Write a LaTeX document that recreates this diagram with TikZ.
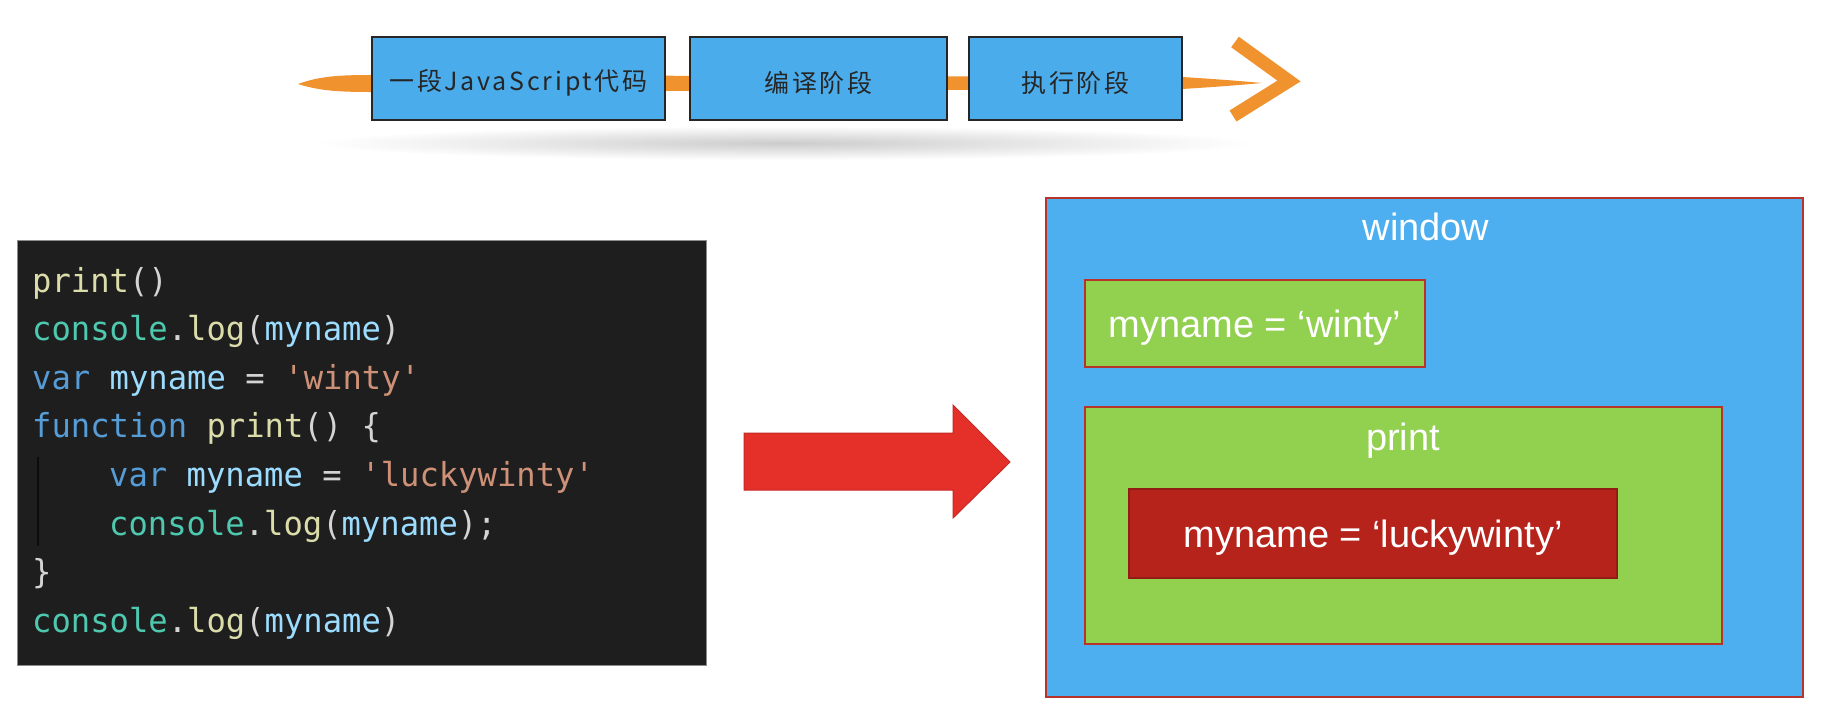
\documentclass[tikz,border=0pt]{standalone}
\usepackage{fontspec}
\setmainfont{Liberation Sans}
\newfontfamily\cjkfont[LetterSpace=11]{Noto Sans CJK SC}
\newfontfamily\codefont[FakeStretch=0.975]{DejaVu Sans Mono}
\definecolor{brush}{HTML}{F0932E}
\definecolor{stageblue}{HTML}{4BACEB}
\definecolor{winblue}{HTML}{4DAFF0}
\definecolor{scopegreen}{HTML}{92D050}
\definecolor{scopered}{HTML}{B5231B}
\definecolor{arrowred}{HTML}{E5302A}
\definecolor{edgered}{HTML}{B8342A}
\definecolor{codebg}{HTML}{1E1E1E}
\definecolor{cfun}{HTML}{DCDCAA}
\definecolor{cobj}{HTML}{4EC9B0}
\definecolor{cvar}{HTML}{9CDCFE}
\definecolor{ckey}{HTML}{569CD6}
\definecolor{cstr}{HTML}{CE9178}
\definecolor{cpun}{HTML}{D4D4D4}
\newcommand{\cf}[1]{\textcolor{cfun}{#1}}
\newcommand{\co}[1]{\textcolor{cobj}{#1}}
\newcommand{\cv}[1]{\textcolor{cvar}{#1}}
\newcommand{\ck}[1]{\textcolor{ckey}{#1}}
\newcommand{\cs}[1]{\textcolor{cstr}{#1}}
\newcommand{\cp}[1]{\textcolor{cpun}{#1}}
\newcommand{\q}{\textquotesingle}
\begin{document}
\begin{tikzpicture}[x=1pt,y=-1pt,
  stagebox/.style={draw=black!85,line width=1.3pt,fill=stageblue,minimum height=83pt,inner sep=0pt},
  stagetext/.style={font=\cjkfont\fontsize{25}{29}\selectfont,text=black!85},
  codeline/.style={anchor=base west,inner sep=0pt,font=\codefont\fontsize{33}{38}\selectfont},
  scopebox/.style={draw=edgered,line width=1.6pt,inner sep=0pt},
  scopetext/.style={anchor=base,text=white,font=\fontsize{38}{44}\selectfont,inner sep=0pt}]
\useasboundingbox (0,0) rectangle (1822,716);
\fill[white] (0,0) rectangle (1822,716);

% soft shadow under the pipeline
\shade[inner color=black!20,outer color=white] (785,143) ellipse [x radius=470,y radius=17];

% orange brush stroke
\fill[brush] (298,84) .. controls (320,76) and (340,75) .. (372,75) -- (1182,77)
  .. controls (1215,79) and (1240,81) .. (1262,83)
  .. controls (1240,85) and (1215,87) .. (1182,89) -- (372,92)
  .. controls (340,92) and (320,91) .. (298,84) -- cycle;
\coordinate (chevtop) at (1235,42);
\coordinate (chevtip) at (1289,81);
\coordinate (chevbot) at (1233,116);
\draw[brush,line width=13pt,line join=miter] (chevtop) -- (chevtip) -- (chevbot);

% stages
\node[stagebox,minimum width=293pt] (s1) at (518.5,78.5) {};
\node[stagebox,minimum width=257pt] (s2) at (818.5,78.5) {};
\node[stagebox,minimum width=213pt] (s3) at (1075.5,78.5) {};
\node[stagetext] (t1) at (518.5,83) {一段JavaScript代码};
\node[stagetext] (t2) at (818.5,83) {编译阶段};
\node[stagetext] (t3) at (1075.5,83) {执行阶段};

% code panel
\node[draw=black!45,line width=1pt,fill=codebg,minimum width=689pt,minimum height=425pt,inner sep=0pt] (code) at (361.5,452.5) {};
\draw[black!60!codebg,line width=1.5pt] (38,457) -- (38,546);
\node[codeline] (l1) at (32,292) {\cf{print}\cp{()}};
\node[codeline] (l2) at (32,340.6) {\co{console}\cp{.}\cf{log}\cp{(}\cv{myname}\cp{)}};
\node[codeline] (l3) at (32,389.2) {\ck{var} \cv{myname} \cp{=} \cs{\q winty\q}};
\node[codeline] (l4) at (32,437.8) {\ck{function} \cf{print}\cp{() \{}};
\node[codeline] (l5) at (109,486.4) {\ck{var} \cv{myname} \cp{=} \cs{\q luckywinty\q}};
\node[codeline] (l6) at (109,535) {\co{console}\cp{.}\cf{log}\cp{(}\cv{myname}\cp{);}};
\node[codeline] (l7) at (32,583.6) {\cp{\}}};
\node[codeline] (l8) at (32,632.2) {\co{console}\cp{.}\cf{log}\cp{(}\cv{myname}\cp{)}};

% big red arrow
\fill[arrowred,draw=arrowred!85!black,line width=1pt]
  (744,433) -- (953,433) -- (953,405) -- (1010,462) -- (953,518) -- (953,490) -- (744,490) -- cycle;

% scopes
\node[scopebox,fill=winblue,minimum width=757pt,minimum height=499pt] (win) at (1424.5,447.5) {};
\node[scopetext] (wint) at (1426,240) {window};
\node[scopebox,fill=scopegreen,minimum width=340pt,minimum height=87pt] (g1) at (1255,323.5) {};
\node[scopetext] (g1t) at (1255,337) {myname = ‘winty’};
\node[scopebox,fill=scopegreen,minimum width=637pt,minimum height=237pt] (g2) at (1403.5,525.5) {};
\node[scopetext] (g2t) at (1403,450) {print};
\node[scopebox,draw=scopered!80!black,fill=scopered,minimum width=488pt,minimum height=89pt] (rb) at (1373,533.5) {};
\node[scopetext] (rbt) at (1373,547) {myname = ‘luckywinty’};
\end{tikzpicture}
\end{document}
